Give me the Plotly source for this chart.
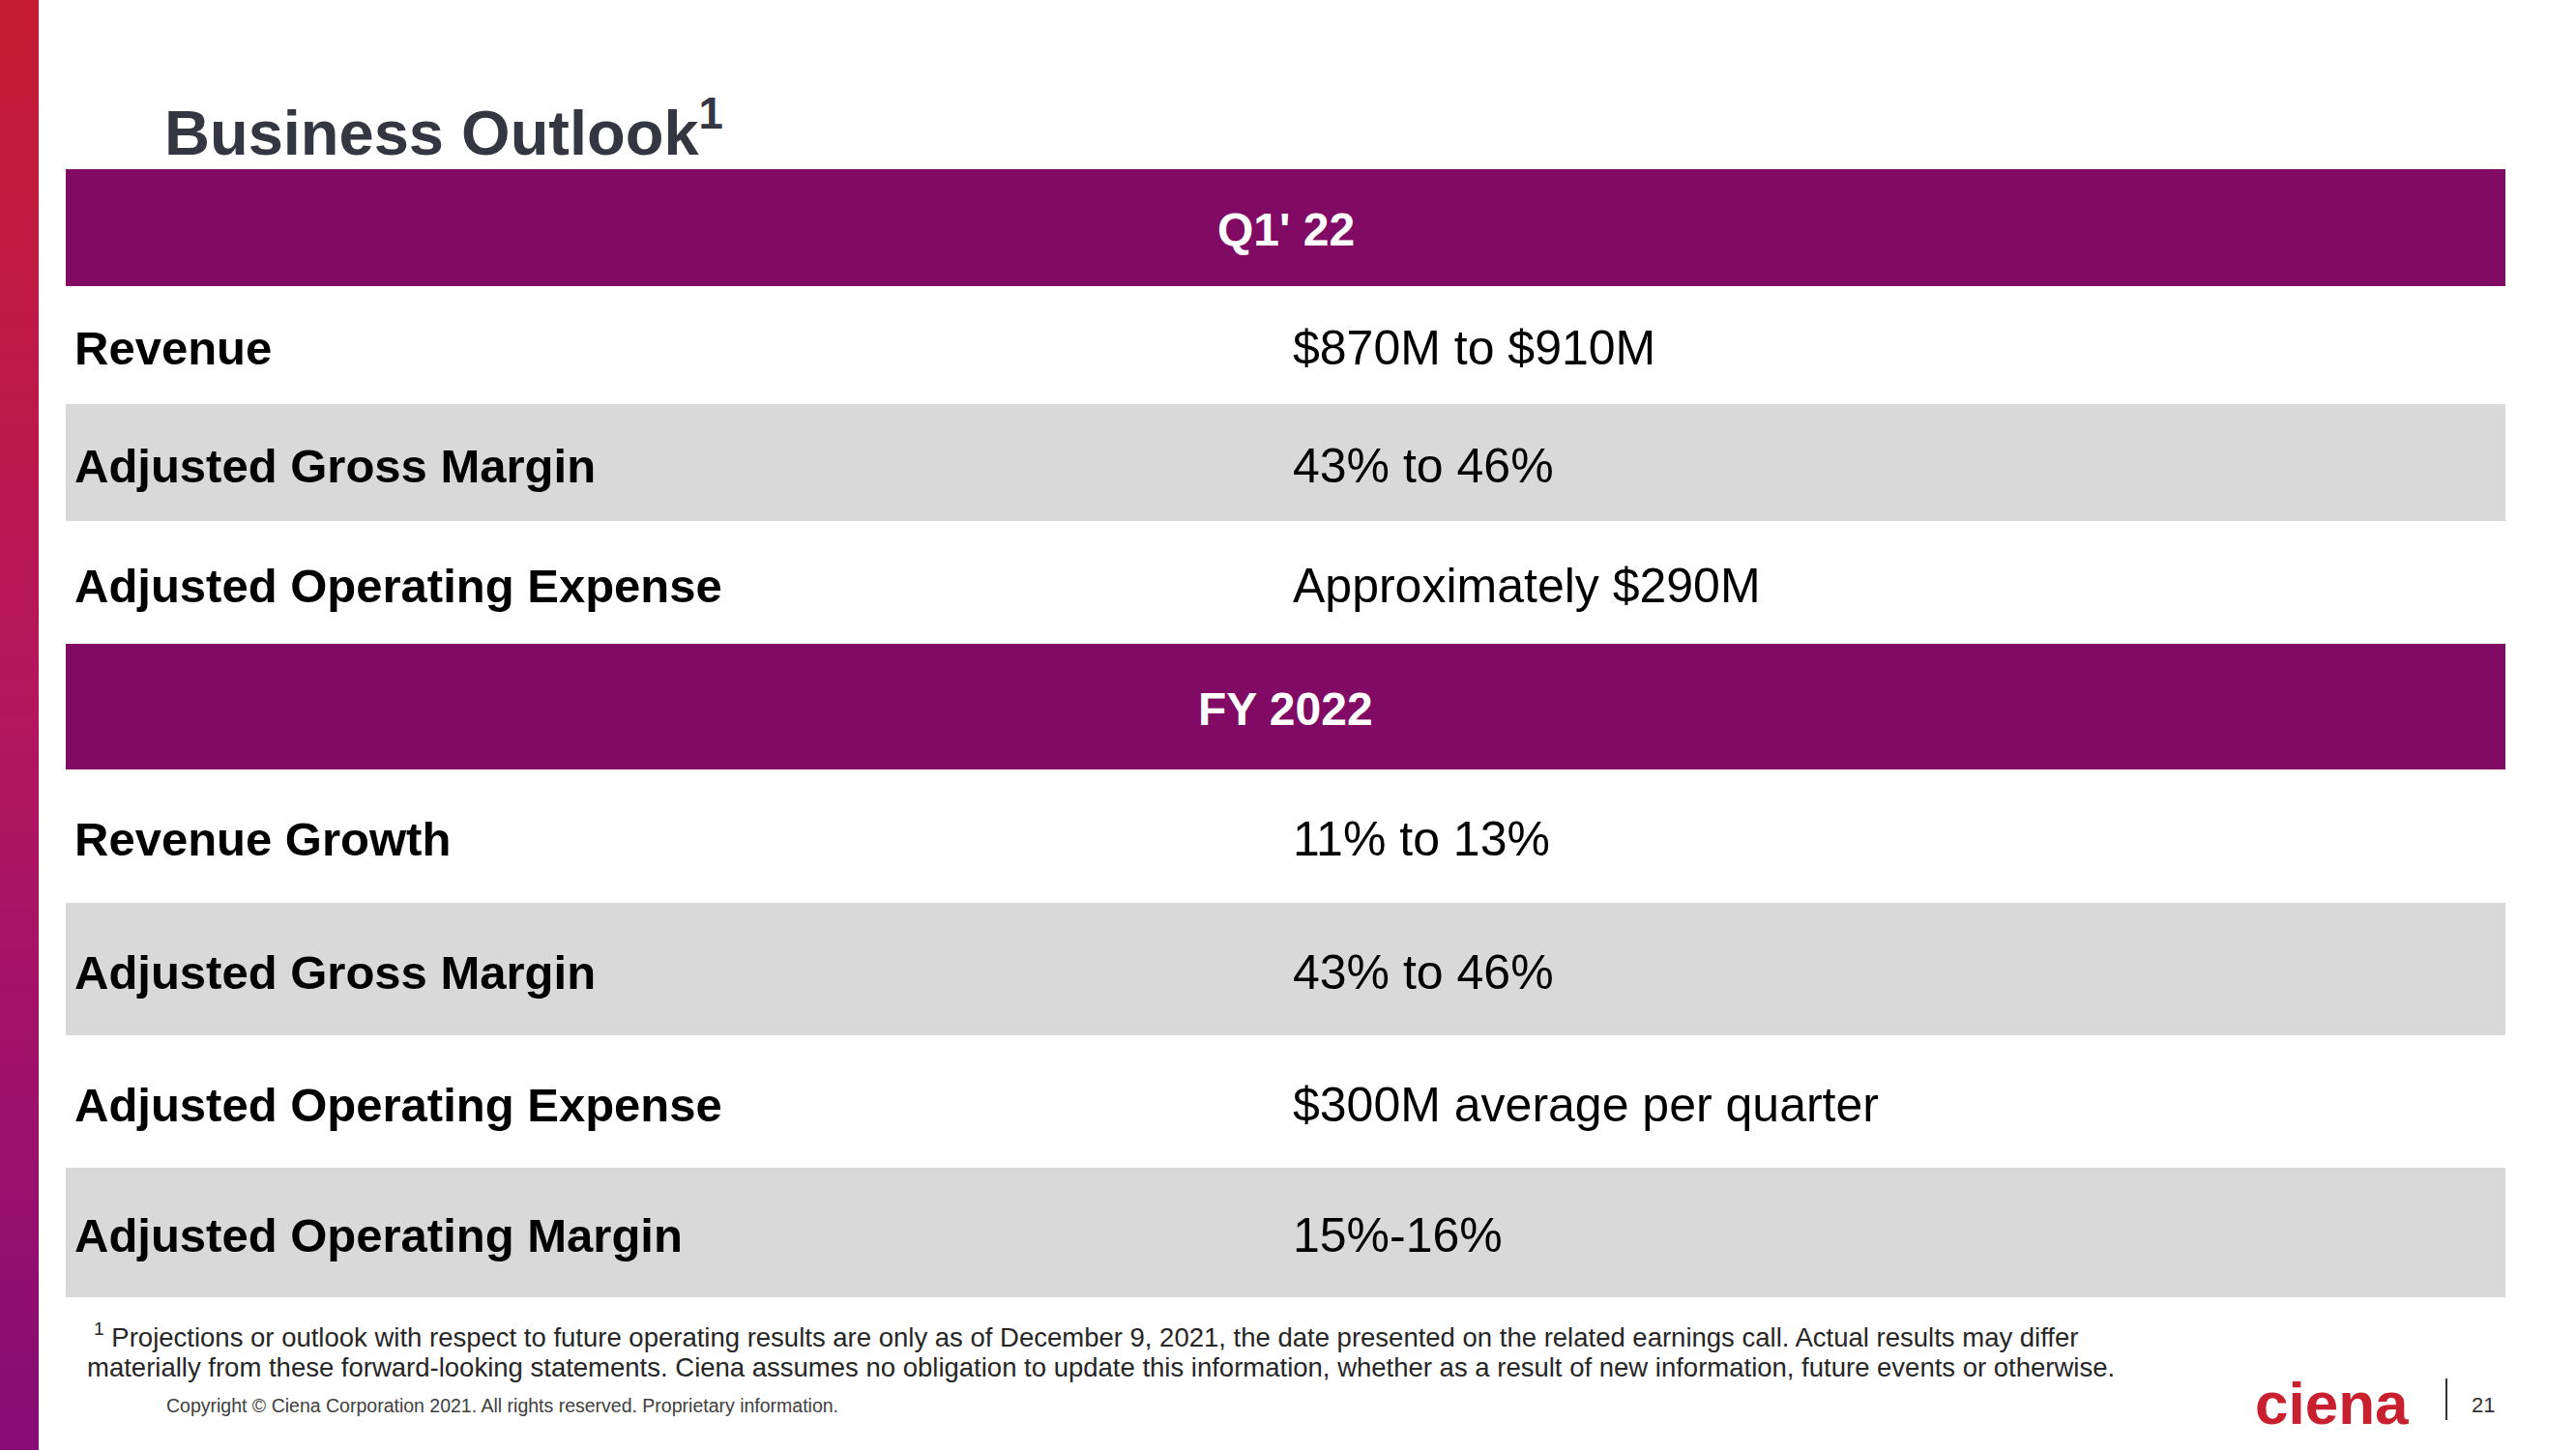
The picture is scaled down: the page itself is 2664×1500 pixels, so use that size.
import plotly.graph_objects as go

# ---------------- data ----------------
title_text = "Business Outlook"
section_headers = ["Q1' 22", "FY 2022"]
q1_metrics = ["Revenue", "Adjusted Gross Margin", "Adjusted Operating Expense"]
q1_outlook = ["$870M to $910M", "43% to 46%", "Approximately $290M"]
fy_metrics = ["Revenue Growth", "Adjusted Gross Margin", "Adjusted Operating Expense",
              "Adjusted Operating Margin"]
fy_outlook = ["11% to 13%", "43% to 46%", "$300M average per quarter", "15%-16%"]
footnote_line1 = ("Projections or outlook with respect to future operating results are only as of "
                  "December 9, 2021, the date presented on the related earnings call. "
                  "Actual results may differ")
footnote_line2 = ("materially from these forward-looking statements. Ciena assumes no obligation to "
                  "update this information, whether as a result of new information, future events "
                  "or otherwise.")
copyright_text = "Copyright © Ciena Corporation 2021. All rights reserved. Proprietary information."
page_number = "21"
logo_text = "ciena"

# ---------------- layout constants ----------------
W, H = 2664, 1500
TBL_X0, TBL_X1 = 68, 2591
LABEL_X, VALUE_X = 75, 1335
PURPLE = "#800A64"
GRAY = "#D9D9D9"
FONT = "Liberation Sans, Arial, sans-serif"

header_bands = [(175, 296), (666, 796)]
q1_bands = [(296, 418), (418, 539), (539, 666)]
fy_bands = [(796, 934), (934, 1071), (1071, 1208), (1208, 1342)]

fig = go.Figure()
shapes = []
annotations = []

# left gradient bar
stops = [(0.0, (198, 28, 50)), (0.5, (180, 22, 95)), (1.0, (135, 12, 118))]
def grad(t):
    for (t0, c0), (t1, c1) in zip(stops[:-1], stops[1:]):
        if t <= t1:
            f = (t - t0) / (t1 - t0)
            return tuple(int(round(a + (b - a) * f)) for a, b in zip(c0, c1))
    return stops[-1][1]
N = 75
for i in range(N):
    y0 = H * i / N
    y1 = H * (i + 1) / N + 0.6
    r, g, b = grad((i + 0.5) / N)
    shapes.append(dict(type="rect", xref="x", yref="y", x0=0, x1=40, y0=y0, y1=y1,
                       fillcolor=f"rgb({r},{g},{b})", line=dict(width=0), layer="below"))

# section headers
for (y0, y1), txt in zip(header_bands, section_headers):
    shapes.append(dict(type="rect", xref="x", yref="y", x0=TBL_X0, x1=TBL_X1, y0=y0, y1=y1,
                       fillcolor=PURPLE, line=dict(width=0), layer="below"))
    annotations.append(dict(x=(TBL_X0 + TBL_X1) / 2, y=(y0 + y1) / 2 + 2, xref="x", yref="y",
                            text=f"<b>{txt}</b>", showarrow=False, xanchor="center", yanchor="middle",
                            font=dict(family=FONT, size=48, color="white")))

def add_rows(bands, metrics, values):
    for i, ((y0, y1), m, v) in enumerate(zip(bands, metrics, values)):
        if i % 2 == 1:
            shapes.append(dict(type="rect", xref="x", yref="y", x0=TBL_X0, x1=TBL_X1, y0=y0, y1=y1,
                               fillcolor=GRAY, line=dict(width=0), layer="below"))
        yc = (y0 + y1) / 2 + 3
        annotations.append(dict(x=LABEL_X, y=yc, xref="x", yref="y", text=f"<b>{m}</b>",
                                showarrow=False, xanchor="left", yanchor="middle",
                                font=dict(family=FONT, size=49, color="black")))
        annotations.append(dict(x=VALUE_X, y=yc, xref="x", yref="y", text=v,
                                showarrow=False, xanchor="left", yanchor="middle",
                                font=dict(family=FONT, size=50, color="black")))

add_rows(q1_bands, q1_metrics, q1_outlook)
add_rows(fy_bands, fy_metrics, fy_outlook)

# title
annotations.append(dict(x=168, y=133, xref="x", yref="y",
                        text=f"<b>{title_text}<sup>1</sup></b>", showarrow=False,
                        xanchor="left", yanchor="middle",
                        font=dict(family=FONT, size=65, color="#343741")))

# footnote
annotations.append(dict(x=95, y=1381, xref="x", yref="y",
                        text=f"<sup>1</sup> {footnote_line1}", showarrow=False,
                        xanchor="left", yanchor="middle",
                        font=dict(family=FONT, size=27.5, color="#262626")))
annotations.append(dict(x=88, y=1414, xref="x", yref="y", text=footnote_line2, showarrow=False,
                        xanchor="left", yanchor="middle",
                        font=dict(family=FONT, size=27.5, color="#262626")))
annotations.append(dict(x=170, y=1454, xref="x", yref="y", text=copyright_text, showarrow=False,
                        xanchor="left", yanchor="middle",
                        font=dict(family=FONT, size=19.5, color="#404040")))

# logo + page number
annotations.append(dict(x=2330, y=1451, xref="x", yref="y", text=f"<b>{logo_text}</b>",
                        showarrow=False, xanchor="left", yanchor="middle",
                        font=dict(family=FONT, size=62, color="#C8202F")))
shapes.append(dict(type="line", xref="x", yref="y", x0=2530, x1=2530, y0=1426, y1=1469,
                   line=dict(color="#333333", width=2)))
annotations.append(dict(x=2554, y=1453, xref="x", yref="y", text=page_number, showarrow=False,
                        xanchor="left", yanchor="middle",
                        font=dict(family=FONT, size=22, color="#333333")))

fig.update_layout(
    width=W, height=H, margin=dict(l=0, r=0, t=0, b=0),
    paper_bgcolor="white", plot_bgcolor="white",
    xaxis=dict(range=[0, W], visible=False, fixedrange=True),
    yaxis=dict(range=[H, 0], visible=False, fixedrange=True),
    shapes=shapes, annotations=annotations, showlegend=False,
)

fig.write_html("out.html", config={"displayModeBar": False},
               post_script="document.body.style.margin='0';document.body.style.overflow='hidden';")
